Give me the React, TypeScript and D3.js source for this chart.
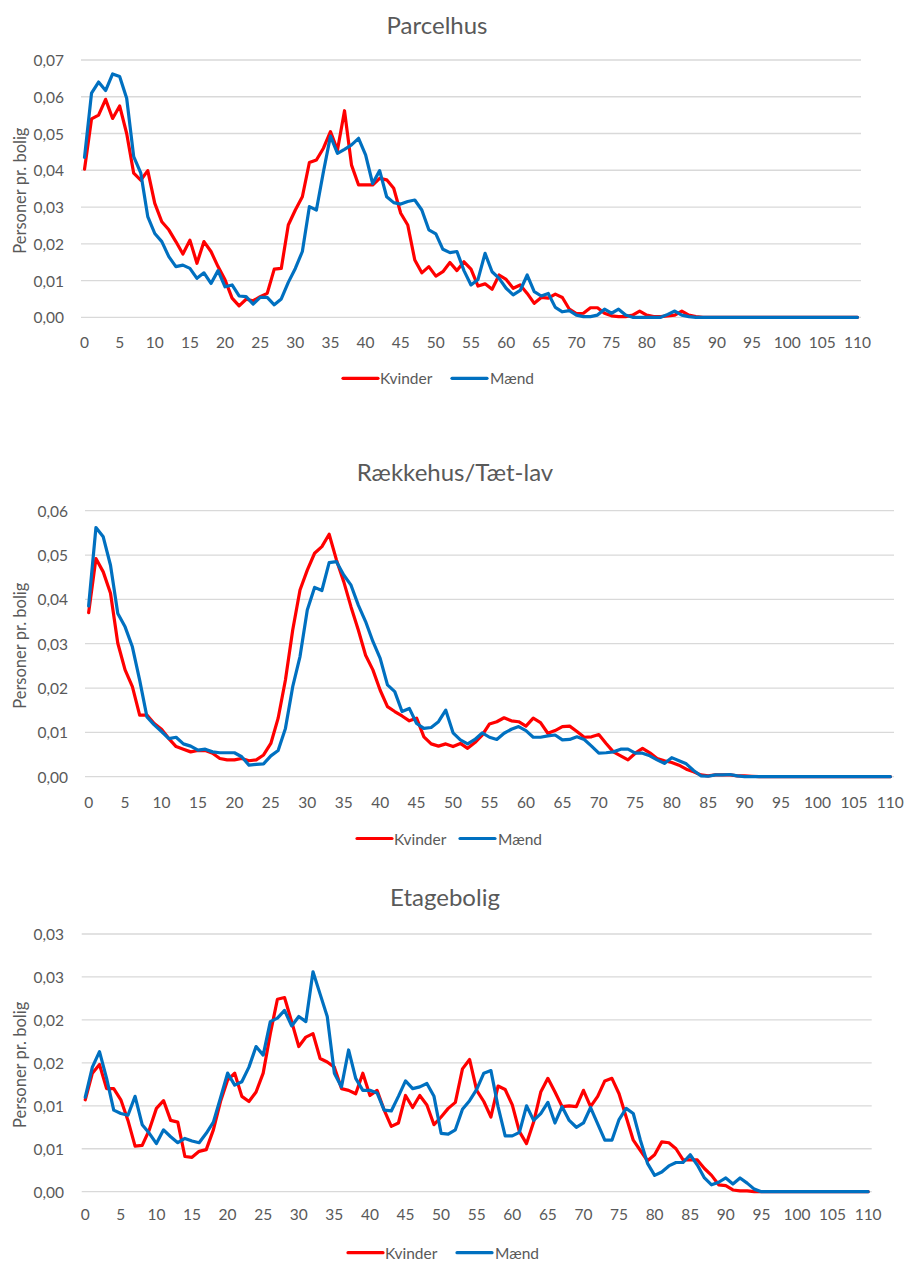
import React from "react";
import * as d3 from "d3";

// ---------- DATA ----------
const ages: number[] = d3.range(0, 111);
const xTickLabels = ["0","5","10","15","20","25","30","35","40","45","50","55","60","65","70","75","80","85","90","95","100","105","110"];
const seriesNames = ["Kvinder", "Mænd"];

const parcelTicks = [0, 0.01, 0.02, 0.03, 0.04, 0.05, 0.06, 0.07];
const parcelTickLabels = ["0,00","0,01","0,02","0,03","0,04","0,05","0,06","0,07"];
const parcelKvinder = [
  0.0403,0.0540,0.0550,0.0593,0.0541,0.0575,0.0500,0.0392,0.0373,0.0399,
  0.0310,0.0260,0.0238,0.0206,0.0172,0.0210,0.0147,0.0206,0.0179,0.0138,
  0.0102,0.0052,0.0031,0.0049,0.0045,0.0056,0.0065,0.0131,0.0133,0.0251,
  0.0292,0.0328,0.0421,0.0428,0.0460,0.0505,0.0455,0.0562,0.0414,0.0360,
  0.0360,0.0360,0.0378,0.0374,0.0351,0.0283,0.0251,0.0156,0.0121,0.0138,
  0.0112,0.0124,0.0149,0.0127,0.0151,0.0131,0.0085,0.0091,0.0076,0.0115,
  0.0103,0.0079,0.0088,0.0065,0.0038,0.0054,0.0052,0.0063,0.0054,0.0022,
  0.0010,0.0011,0.0026,0.0026,0.0011,0.0004,0.0002,0.0002,0.0006,0.0017,
  0.0006,0.0002,0.0002,0.0004,0.0006,0.0017,0.0006,0.0002,0,0,
  0,0,0,0,0,0,0,0,0,0,
  0,0,0,0,0,0,0,0,0,0,
  0
];
const parcelMaend = [
  0.0435,0.0610,0.0640,0.0617,0.0662,0.0655,0.0596,0.0437,0.0393,0.0274,
  0.0228,0.0206,0.0165,0.0138,0.0142,0.0133,0.0106,0.0121,0.0092,0.0127,
  0.0083,0.0088,0.0058,0.0056,0.0036,0.0054,0.0054,0.0034,0.0050,0.0095,
  0.0133,0.0179,0.0301,0.0292,0.0396,0.0493,0.0446,0.0457,0.0469,0.0487,
  0.0442,0.0364,0.0399,0.0328,0.0312,0.0308,0.0315,0.0319,0.0292,0.0238,
  0.0227,0.0185,0.0176,0.0179,0.0127,0.0088,0.0103,0.0174,0.0124,0.0106,
  0.0079,0.0061,0.0073,0.0115,0.0070,0.0058,0.0065,0.0027,0.0015,0.0018,
  0.0006,0.0002,0.0002,0.0006,0.0022,0.0011,0.0022,0.0006,0,0,
  0,0,0,0.0008,0.0017,0.0006,0.0002,0,0,0,
  0,0,0,0,0,0,0,0,0,0,
  0,0,0,0,0,0,0,0,0,0,
  0
];

const raekkeTicks = [0, 0.01, 0.02, 0.03, 0.04, 0.05, 0.06];
const raekkeTickLabels = ["0,00","0,01","0,02","0,03","0,04","0,05","0,06"];
const raekkeKvinder = [
  0.0370,0.0492,0.0462,0.0414,0.0301,0.0241,0.0203,0.0139,0.0139,0.0120,
  0.0107,0.0086,0.0068,0.0062,0.0056,0.0059,0.0059,0.0053,0.0041,0.0038,
  0.0038,0.0041,0.0036,0.0038,0.0049,0.0075,0.0132,0.0218,0.0331,0.0421,
  0.0466,0.0504,0.0519,0.0547,0.0489,0.0440,0.0383,0.0331,0.0274,0.0241,
  0.0195,0.0158,0.0147,0.0137,0.0126,0.0132,0.0090,0.0074,0.0069,0.0074,
  0.0068,0.0075,0.0064,0.0077,0.0094,0.0119,0.0124,0.0133,0.0126,0.0124,
  0.0114,0.0132,0.0122,0.0098,0.0104,0.0113,0.0114,0.0102,0.0089,0.0090,
  0.0095,0.0075,0.0056,0.0047,0.0038,0.0053,0.0064,0.0054,0.0041,0.0036,
  0.0032,0.0026,0.0017,0.0011,0.0004,0.0002,0.0004,0.0004,0.0004,0.0002,
  0.0002,0.0001,0,0,0,0,0,0,0,0,
  0,0,0,0,0,0,0,0,0,0,
  0
];
const raekkeMaend = [
  0.0385,0.0562,0.0541,0.0477,0.0368,0.0338,0.0293,0.0218,0.0135,0.0117,
  0.0102,0.0086,0.0089,0.0074,0.0069,0.0060,0.0062,0.0056,0.0054,0.0054,
  0.0054,0.0045,0.0026,0.0028,0.0029,0.0047,0.0059,0.0109,0.0203,0.0271,
  0.0376,0.0427,0.0420,0.0483,0.0485,0.0455,0.0432,0.0387,0.0350,0.0305,
  0.0267,0.0207,0.0192,0.0147,0.0154,0.0120,0.0109,0.0111,0.0124,0.0150,
  0.0099,0.0083,0.0074,0.0084,0.0099,0.0089,0.0084,0.0098,0.0107,0.0113,
  0.0104,0.0089,0.0089,0.0092,0.0094,0.0083,0.0084,0.0090,0.0084,0.0069,
  0.0053,0.0054,0.0056,0.0062,0.0062,0.0053,0.0053,0.0047,0.0038,0.0030,
  0.0043,0.0036,0.0029,0.0014,0.0002,0.0001,0.0004,0.0004,0.0005,0.0002,
  0,0,0,0,0,0,0,0,0,0,
  0,0,0,0,0,0,0,0,0,0,
  0
];

const etageTicks = [0, 0.005, 0.01, 0.015, 0.02, 0.025, 0.03];
const etageTickLabels = ["0,00","0,01","0,01","0,02","0,02","0,03","0,03"];
const etageKvinder = [
  0.0107,0.0138,0.0148,0.0120,0.0120,0.0107,0.0083,0.0053,0.0054,0.0072,
  0.0097,0.0106,0.0083,0.0081,0.0041,0.0040,0.0047,0.0049,0.0072,0.0105,
  0.0130,0.0138,0.0111,0.0105,0.0116,0.0138,0.0184,0.0224,0.0226,0.0198,
  0.0169,0.0180,0.0184,0.0155,0.0151,0.0145,0.0120,0.0118,0.0114,0.0138,
  0.0112,0.0118,0.0095,0.0076,0.0080,0.0112,0.0098,0.0112,0.0101,0.0078,
  0.0087,0.0097,0.0104,0.0143,0.0154,0.0118,0.0105,0.0087,0.0123,0.0119,
  0.0101,0.0070,0.0056,0.0081,0.0116,0.0132,0.0116,0.0099,0.0100,0.0099,
  0.0118,0.0099,0.0111,0.0129,0.0132,0.0114,0.0087,0.0060,0.0048,0.0036,
  0.0043,0.0058,0.0057,0.0050,0.0037,0.0037,0.0037,0.0027,0.0019,0.0008,
  0.0007,0.0002,0.0001,0.0001,0,0,0,0,0,0,
  0,0,0,0,0,0,0,0,0,0,
  0
];
const etageMaend = [
  0.0110,0.0145,0.0163,0.0132,0.0095,0.0091,0.0089,0.0111,0.0078,0.0068,
  0.0056,0.0072,0.0064,0.0057,0.0062,0.0059,0.0057,0.0068,0.0081,0.0109,
  0.0138,0.0124,0.0128,0.0145,0.0169,0.0159,0.0198,0.0202,0.0211,0.0193,
  0.0204,0.0198,0.0256,0.0230,0.0204,0.0138,0.0122,0.0165,0.0132,0.0118,
  0.0118,0.0115,0.0095,0.0094,0.0111,0.0129,0.0120,0.0122,0.0126,0.0111,
  0.0068,0.0067,0.0072,0.0096,0.0106,0.0119,0.0138,0.0141,0.0099,0.0065,
  0.0065,0.0069,0.0100,0.0083,0.0091,0.0104,0.0080,0.0099,0.0083,0.0075,
  0.0080,0.0098,0.0079,0.0060,0.0060,0.0084,0.0097,0.0091,0.0060,0.0033,
  0.0019,0.0023,0.0030,0.0034,0.0034,0.0043,0.0031,0.0016,0.0008,0.0011,
  0.0016,0.0009,0.0016,0.0010,0.0003,0,0,0,0,0,
  0,0,0,0,0,0,0,0,0,0,
  0
];

// ---------- STYLE ----------
const FONT = "Lato, 'Open Sans', sans-serif";
const TEXT = "#595959";
const GRID = "#D9D9D9";
const RED = "#FF0000";
const BLUE = "#0070C0";

type Cfg = {
  title: string;
  titleX: number;
  titleY: number;
  gridLeft: number;
  gridRight: number;
  yTop: number;
  yBottom: number;
  ticks: number[];
  tickLabels: string[];
  tickRight: number;
  xLabelY: number;
  legendY: number;
  legendRedX: number;
  legendBlueX: number;
  kvinder: number[];
  maend: number[];
};

const charts: Cfg[] = [
  {
    title: "Parcelhus", titleX: 437, titleY: 24,
    gridLeft: 81, gridRight: 861, yTop: 60, yBottom: 317.3,
    ticks: parcelTicks, tickLabels: parcelTickLabels, tickRight: 64,
    xLabelY: 341.5, legendY: 378.3, legendRedX: 343, legendBlueX: 452,
    kvinder: parcelKvinder, maend: parcelMaend,
  },
  {
    title: "Rækkehus/Tæt-lav", titleX: 455, titleY: 471,
    gridLeft: 85, gridRight: 894, yTop: 510.7, yBottom: 776.7,
    ticks: raekkeTicks, tickLabels: raekkeTickLabels, tickRight: 68,
    xLabelY: 801.5, legendY: 838.5, legendRedX: 357, legendBlueX: 460,
    kvinder: raekkeKvinder, maend: raekkeMaend,
  },
  {
    title: "Etagebolig", titleX: 445, titleY: 896,
    gridLeft: 81.7, gridRight: 871.7, yTop: 934, yBottom: 1191.7,
    ticks: etageTicks, tickLabels: etageTickLabels, tickRight: 64,
    xLabelY: 1214, legendY: 1252.7, legendRedX: 348, legendBlueX: 457,
    kvinder: etageKvinder, maend: etageMaend,
  },
];

function Chart({ cfg }: { cfg: Cfg }) {
  const x = d3.scaleBand<string>()
    .domain(ages.map(String))
    .range([cfg.gridLeft, cfg.gridRight])
    .padding(0);
  const xp = (a: number) => (x(String(a)) as number) + x.bandwidth() / 2;
  const yMax = cfg.ticks[cfg.ticks.length - 1];
  const y = d3.scaleLinear().domain([0, yMax]).range([cfg.yBottom, cfg.yTop]);
  const line = d3.line<number>()
    .x((_, i) => xp(ages[i]))
    .y((d) => y(d));

  const yTitleCenter = (cfg.yTop + cfg.yBottom) / 2 + 2;
  const lineLen = 35;

  return (
    <g>
      <text x={cfg.titleX} y={cfg.titleY} textAnchor="middle" dominantBaseline="central"
        fontSize={24} fill={TEXT} fontFamily={FONT}>{cfg.title}</text>
      {cfg.ticks.map((t, i) => (
        <g key={i}>
          <line x1={cfg.gridLeft} x2={cfg.gridRight} y1={y(t)} y2={y(t)} stroke={GRID} strokeWidth={1.3} />
          <text x={cfg.tickRight} y={y(t)} textAnchor="end" dominantBaseline="central"
            fontSize={15.5} fill={TEXT} fontFamily={FONT}>{cfg.tickLabels[i]}</text>
        </g>
      ))}
      {xTickLabels.map((l) => (
        <text key={l} x={xp(+l)} y={cfg.xLabelY} textAnchor="middle" dominantBaseline="central"
          fontSize={15.5} fill={TEXT} fontFamily={FONT}>{l}</text>
      ))}
      <text transform={`translate(20,${yTitleCenter}) rotate(-90)`} textAnchor="middle" dominantBaseline="central"
        fontSize={16.5} fill={TEXT} fontFamily={FONT}>Personer pr. bolig</text>
      <path d={line(cfg.kvinder) || ""} fill="none" stroke={RED} strokeWidth={3.2} strokeLinejoin="round" strokeLinecap="round" />
      <path d={line(cfg.maend) || ""} fill="none" stroke={BLUE} strokeWidth={3.2} strokeLinejoin="round" strokeLinecap="round" />
      <line x1={cfg.legendRedX} x2={cfg.legendRedX + lineLen} y1={cfg.legendY} y2={cfg.legendY} stroke={RED} strokeWidth={3.2} strokeLinecap="round" />
      <text x={cfg.legendRedX + lineLen + 2} y={cfg.legendY} dominantBaseline="central"
        fontSize={15.5} fill={TEXT} fontFamily={FONT}>{seriesNames[0]}</text>
      <line x1={cfg.legendBlueX} x2={cfg.legendBlueX + lineLen} y1={cfg.legendY} y2={cfg.legendY} stroke={BLUE} strokeWidth={3.2} strokeLinecap="round" />
      <text x={cfg.legendBlueX + lineLen + 3} y={cfg.legendY} dominantBaseline="central"
        fontSize={15.5} fill={TEXT} fontFamily={FONT}>{seriesNames[1]}</text>
    </g>
  );
}

export default function App() {
  return (
    <svg width={906} height={1261} viewBox="0 0 906 1261"
      style={{ position: "absolute", left: 0, top: 0, background: "#fff" }}>
      <rect x={0} y={0} width={906} height={1261} fill="#fff" />
      {charts.map((c, i) => <Chart key={i} cfg={c} />)}
    </svg>
  );
}
